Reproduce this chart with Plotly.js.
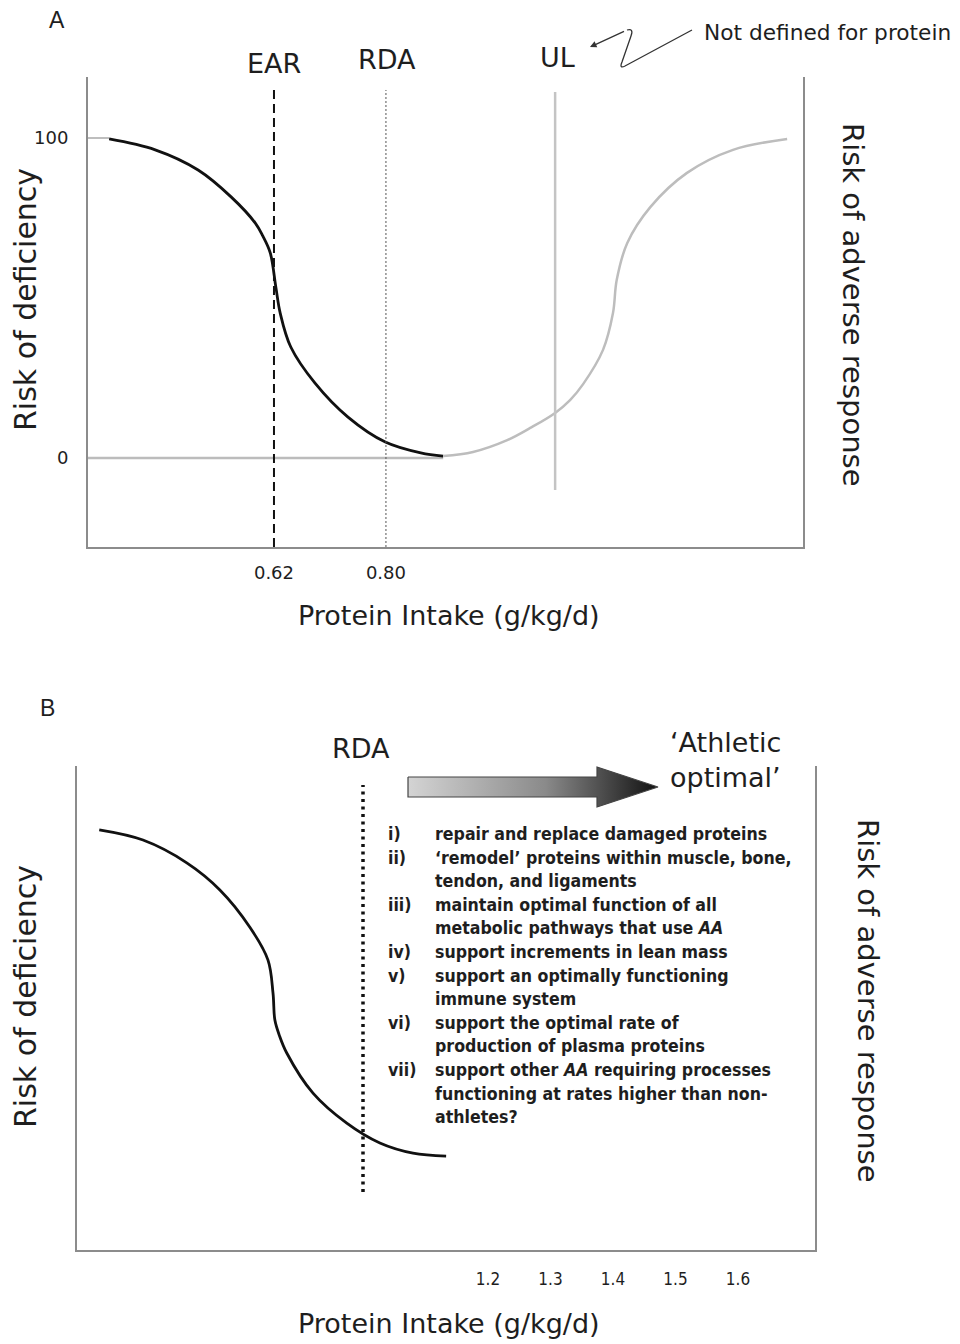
<!DOCTYPE html>
<html><head><meta charset="utf-8">
<script src="https://cdn.plot.ly/plotly-3.0.1.min.js"></script>
<style>html,body{margin:0;padding:0;background:#fff}</style>
</head><body><div id="chart" style="width:960px;height:1344px"></div>
<script>
// ---------- Panel A data ----------
const intakeTicksA = [0.62, 0.80];
const intakeTickTextA = ['0.62', '0.80'];
const riskTicksA = [0, 100];
const riskTickTextA = ['0', '100'];
const earIntake = 0.62;
const rdaIntakeA = 0.80;
const ulIntake = 1.072;
const deficiencyIntakeA = [0.355, 0.429, 0.498, 0.551, 0.590, 0.602, 0.614, 0.623, 0.630, 0.647, 0.686, 0.739, 0.799, 0.856, 0.892];
const deficiencyRiskA   = [99.7, 96.3, 90.0, 81.6, 73.4, 69.4, 64.1, 53.4, 45.3, 34.7, 23.4, 12.8, 5.0, 1.6, 0.6];
const adverseIntakeA = [0.892, 0.940, 0.995, 1.032, 1.072, 1.096, 1.117, 1.149, 1.165, 1.171, 1.188, 1.225, 1.284, 1.358, 1.445];
const adverseRiskA   = [0.6, 1.9, 5.6, 9.4, 14.1, 18.1, 23.1, 33.8, 45.3, 55.6, 67.2, 78.4, 89.1, 96.3, 99.7];

// ---------- Panel B data ----------
const intakeTicksB = [1.2, 1.3, 1.4, 1.5, 1.6];
const intakeTickTextB = ['1.2', '1.3', '1.4', '1.5', '1.6'];
const rdaIntakeB = 1.0;
const deficiencyIntakeB = [0.578, 0.648, 0.718, 0.771, 0.819, 0.848, 0.856, 0.859, 0.866, 0.878, 0.920, 0.974, 1.027, 1.080, 1.133];
const deficiencyRiskB   = [86.8, 84.7, 80.0, 74.4, 66.7, 59.9, 53.1, 47.5, 44.4, 40.7, 32.4, 26.2, 22.1, 20.0, 19.4];
const itemNumerals = ['i)', 'ii)', '', 'iii)', '', 'iv)', 'v)', '', 'vi)', '', 'vii)', '', ''];
const itemLines = [
  'repair and replace damaged proteins',
  '\u2018remodel\u2019 proteins within muscle, bone,',
  'tendon, and ligaments',
  'maintain optimal function of all',
  'metabolic pathways that use <i>AA</i>',
  'support increments in lean mass',
  'support an optimally functioning',
  'immune system',
  'support the optimal rate of',
  'production of plasma proteins',
  'support other <i>AA</i> requiring processes',
  'functioning at rates higher than non-',
  'athletes?'
];

// ---------- helpers (pixel -> paper) ----------
const W = 960, H = 1344;
const px = x => x / W;
const py = y => 1 - y / H;
const FONT = 'DejaVu Sans';
const TXT = '#1e1e1e';

const xRangeA = [0.321, 1.4705], yRangeA = [-27.8, 119.06];
const xRangeB = [0.5424, 1.7232], yRangeB = [0, 100];

const traces = [
  {x: deficiencyIntakeA, y: deficiencyRiskA, xaxis: 'x', yaxis: 'y', mode: 'lines',
   line: {color: '#111', width: 2.8, shape: 'spline', smoothing: 1}, hoverinfo: 'skip'},
  {x: adverseIntakeA, y: adverseRiskA, xaxis: 'x', yaxis: 'y', mode: 'lines',
   line: {color: '#bdbdbd', width: 2.5, shape: 'spline', smoothing: 1}, hoverinfo: 'skip'},
  {x: deficiencyIntakeB, y: deficiencyRiskB, xaxis: 'x2', yaxis: 'y2', mode: 'lines',
   line: {color: '#111', width: 2.8, shape: 'spline', smoothing: 1}, hoverinfo: 'skip'}
];

// gradient arrow (panel B)
(function () {
  const tail = 1.072, base = 1.3744, tip = 1.472;
  const bt = 97.73, bb = 93.60, ht = 99.79, hb = 91.53, mid = 95.66;
  traces.push({
    x: [tail, base, base, tip, base, base, tail, tail],
    y: [bt, bt, ht, mid, hb, bb, bb, bt],
    xaxis: 'x2', yaxis: 'y2', mode: 'lines', fill: 'toself',
    fillgradient: {type: 'horizontal', colorscale: [[0, '#d4d4d4'], [0.55, '#8a8a8a'], [1, '#111111']]},
    line: {color: '#444', width: 1.2}, hoverinfo: 'skip'
  });
})();

const axisCommon = {showgrid: false, zeroline: false, showline: true, linecolor: '#8c8c8c', linewidth: 2, ticks: '', fixedrange: true};

const shapes = [
  {type: 'line', xref: 'x', yref: 'y', x0: xRangeA[0], x1: deficiencyIntakeA[0], y0: riskTicksA[1], y1: riskTicksA[1], line: {color: '#a8a8a8', width: 1.5}, layer: 'below'},
  {type: 'line', xref: 'x', yref: 'y', x0: xRangeA[0], x1: deficiencyIntakeA[deficiencyIntakeA.length - 1], y0: riskTicksA[0], y1: riskTicksA[0], line: {color: '#bcbcbc', width: 2.5}, layer: 'below'},
  {type: 'line', xref: 'x', yref: 'y', x0: earIntake, x1: earIntake, y0: yRangeA[0], y1: 115, line: {color: '#111', width: 2, dash: '9px,5px'}},
  {type: 'line', xref: 'x', yref: 'y', x0: rdaIntakeA, x1: rdaIntakeA, y0: yRangeA[0], y1: 115, line: {color: '#555', width: 1, dash: '2px,2px'}},
  {type: 'line', xref: 'x', yref: 'y', x0: ulIntake, x1: ulIntake, y0: -10, y1: 114.4, line: {color: '#c4c4c4', width: 2.5}},
  {type: 'line', xref: 'x2', yref: 'y2', x0: rdaIntakeB, x1: rdaIntakeB, y0: 12, y1: 96.1, line: {color: '#111', width: 3.5, dash: '3px,4.5px'}},
  {type: 'path', xref: 'paper', yref: 'paper',
   path: `M ${px(692)},${py(30)} L ${px(625)},${py(66)} Q ${px(619)},${py(69)} ${px(622)},${py(62)} L ${px(631)},${py(36)} Q ${px(634)},${py(28)} ${px(627)},${py(30)}`,
   line: {color: '#333', width: 1.3}}
];

const ann = (text, x, y, size, extra) => Object.assign({
  text, x: px(x), y: py(y), xref: 'paper', yref: 'paper', showarrow: false,
  xanchor: 'center', yanchor: 'middle', font: {family: FONT, size, color: TXT}
}, extra || {});

const annotations = [
  ann('A', 57, 20, 23, {font: {family: 'Liberation Sans', size: 23, color: TXT}}),
  ann('EAR', 274, 63, 27),
  ann('RDA', 387, 60, 27),
  ann('UL', 557, 57, 27),
  ann('Not defined for protein', 702, 32, 21.7, {xanchor: 'left'}),
  {x: px(590), y: py(47), xref: 'paper', yref: 'paper', showarrow: true, ax: 37, ay: -17,
   axref: 'pixel', ayref: 'pixel', arrowhead: 2, arrowsize: 1, arrowwidth: 1.3, arrowcolor: '#333'},
  ann('Protein Intake (g/kg/d)', 449, 616, 27),
  ann('Risk of deficiency', 25, 300, 30, {textangle: -90}),
  ann('Risk of adverse response', 853, 305, 29, {textangle: 90}),
  ann('B', 47, 708, 23, {font: {family: 'Liberation Sans', size: 23, color: TXT}}),
  ann('RDA', 361, 748, 27),
  ann('\u2018Athletic<br>optimal\u2019', 668, 760, 27, {xanchor: 'left', align: 'left'}),
  ann('Protein Intake (g/kg/d)', 449, 1323, 27),
  ann('Risk of deficiency', 25, 997, 30, {textangle: -90}),
  ann('Risk of adverse response', 868, 1001, 29, {textangle: 90})
];
const listFont = {family: 'DejaVu Sans Condensed', size: 17.6, color: TXT, weight: 'bold'};
itemLines.forEach((t, i) => {
  const yy = 834 + i * 23.6;
  if (itemNumerals[i]) annotations.push(ann(itemNumerals[i], 386, yy, 17.6, {xanchor: 'left', font: listFont}));
  annotations.push(ann(t, 433, yy, 17.6, {xanchor: 'left', font: listFont}));
});

const layout = {
  width: W, height: H, margin: {l: 0, r: 0, t: 0, b: 0},
  paper_bgcolor: '#fff', plot_bgcolor: 'rgba(0,0,0,0)', showlegend: false,
  xaxis: Object.assign({}, axisCommon, {domain: [px(88), px(803)], range: xRangeA, anchor: 'y',
    tickvals: intakeTicksA, ticktext: intakeTickTextA, ticklabelstandoff: 8,
    tickfont: {family: FONT, size: 18, color: TXT}}),
  yaxis: Object.assign({}, axisCommon, {domain: [py(547), py(77)], range: yRangeA, anchor: 'x', mirror: true,
    tickvals: riskTicksA, ticktext: riskTickTextA, ticklabelstandoff: 14,
    tickfont: {family: FONT, size: 18, color: TXT}}),
  xaxis2: Object.assign({}, axisCommon, {domain: [px(77), px(815)], range: xRangeB, anchor: 'y2',
    tickvals: intakeTicksB, ticktext: intakeTickTextB, ticklabelstandoff: 13,
    tickfont: {family: 'DejaVu Sans Condensed', size: 17, color: TXT}}),
  yaxis2: Object.assign({}, axisCommon, {domain: [py(1250), py(766)], range: yRangeB, anchor: 'x2', mirror: true,
    showticklabels: false}),
  shapes, annotations
};

Plotly.newPlot('chart', traces, layout, {staticPlot: true, displayModeBar: false});
</script>
</body></html>
